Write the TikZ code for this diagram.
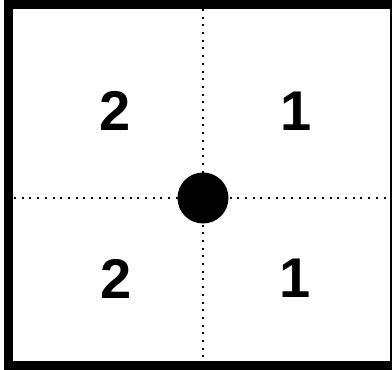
\documentclass[tikz,border=0pt]{standalone}
\usepackage{fontspec}
\setmainfont{Liberation Sans}
\begin{document}
\begin{tikzpicture}[x=1pt,y=1pt,
  frame/.style={line width=9pt},
  dotline/.style={line width=2pt,dash pattern=on 2pt off 5.7pt},
  digit/.style={font=\fontsize{56}{60}\selectfont\bfseries,inner sep=0pt},
  hub/.style={circle,fill=black,minimum size=51pt,inner sep=0pt}]
\useasboundingbox (0,0) rectangle (392,370);
% frame
\coordinate (tl) at (8,365);
\coordinate (bl) at (8,4);
\coordinate (tr) at (392,365);
\coordinate (br) at (392,4);
\draw[frame] (tr) -- (tl) -- (bl) -- (br);
\draw[line width=1.5pt] (391,365) -- (391,4);
% dotted axes
\coordinate (vt) at (203,361);
\coordinate (vb) at (203,8);
\coordinate (hl) at (14,172);
\coordinate (hr) at (391,172);
\draw[dotline] (vt) -- (vb);
\draw[dotline] (hl) -- (hr);
\node[hub] (c) at (203,172) {};
% numbers
\node[digit] (q2) at (115,259) {2};
\node[digit] (q1) at (296,259) {1};
\node[digit] (q3) at (116,91) {2};
\node[digit] (q4) at (295,92) {1};
\end{tikzpicture}
\end{document}
